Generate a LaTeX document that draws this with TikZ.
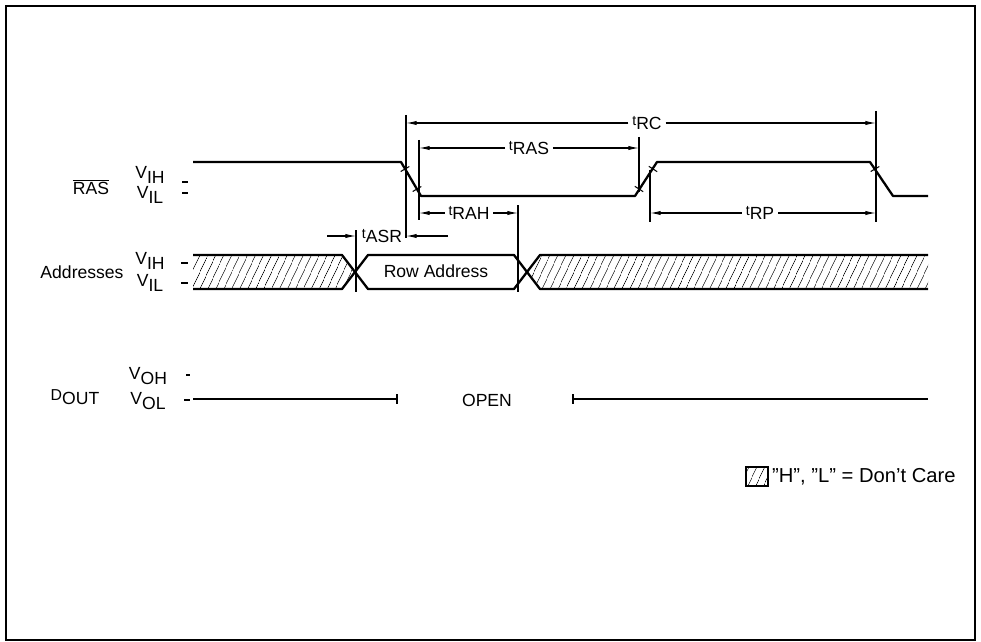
\documentclass[tikz,border=0pt]{standalone}
\usepackage{fontspec}
\setmainfont{Liberation Sans}
\usetikzlibrary{arrows.meta,patterns.meta}

% level label (V raised, suffix dropped) and timing label (small raised t)
\newcommand{\vlev}[2]{#1\raisebox{-2.5pt}{#2}}
\newcommand{\tpar}[1]{\raisebox{2pt}{\footnotesize t}#1}

\tikzset{
  sig/.style={line width=1.3pt, line join=round},
  dimln/.style={line width=0.6pt},
  dimarr/.style={dimln, -{Latex[length=6pt,width=2.4pt]}},
  lbl/.style={font=\fontsize{10}{12}\selectfont, inner sep=1pt},
  dimlbl/.style={lbl, inner sep=2pt},
  hatch/.style={pattern={Lines[angle=65,distance=4pt,line width=0.5pt]}},
  emark/.style={line width=0.6pt},
}

\begin{document}
\begin{tikzpicture}[x=0.02cm,y=-0.02cm]
	\useasboundingbox (0,0) rectangle (981,642);
	% Frame
	\draw[line width=1.2pt] (6,6) rectangle (975,640);

	%% Signal names and levels
	\node[lbl] (ras) at (91,187) {$\overline{\hbox{RAS}}$};
	\node[lbl] (rasvih) at (150,175) {\vlev{V}{IH}};
	\node[lbl] (rasvil) at (150,195) {\vlev{V}{IL}};
	\draw[dimln] (182,182) -- (188,182);
	\draw[dimln] (182,193) -- (188,193);

	\node[lbl] (addr) at (82,272) {Addresses};
	\node[lbl] (addrvih) at (150,261) {\vlev{V}{IH}};
	\node[lbl] (addrvil) at (150,283) {\vlev{V}{IL}};
	\draw[dimln] (181,263) -- (188,263);
	\draw[dimln] (181,283) -- (188,283);

	\node[lbl] (dout) at (75,397) {\raisebox{2pt}{\small D}OUT};
	\node[lbl] (doutvoh) at (148,376) {\vlev{V}{OH}};
	\node[lbl] (doutvol) at (148,401) {\vlev{V}{OL}};
	\draw[dimln] (186,375) -- (190,375);
	\draw[dimln] (184,400) -- (190,400);

	%% RAS waveform
	\draw[sig] (193,162) -- (401,162) -- (421,196) -- (635,196) -- (657,162)
		-- (870,162) -- (893,196) -- (928,196);
	\draw[emark] (405,169) ++(-4.3,2.5) -- ++(8.6,-5);
	\draw[emark] (417,189) ++(-4.3,2.5) -- ++(8.6,-5);
	\draw[emark] (639,189) ++(-4.2,-2.7) -- ++(8.4,5.4);
	\draw[emark] (653,169) ++(-4.2,-2.7) -- ++(8.4,5.4);
	\draw[emark] (875,169) ++(-4.3,2.5) -- ++(8.6,-5);

	%% Address waveform
	\path[hatch] (193,255) -- (342,255) -- (355,272) -- (342,289) -- (193,289) -- cycle;
	\path[hatch] (540,255) -- (928,255) -- (928,289) -- (540,289) -- (527,272) -- cycle;
	\draw[sig] (193,255) -- (342,255) -- (368,289) -- (514,289) -- (540,255) -- (928,255);
	\draw[sig] (193,289) -- (342,289) -- (368,255) -- (514,255) -- (540,289) -- (928,289);
	\node[lbl] (rowaddr) at (436,271) {Row Address};

	%% DOUT
	\draw[sig] (193,399) -- (397,399);
	\draw[dimln] (397,394) -- (397,404);
	\node[lbl] (open) at (487,400) {OPEN};
	\draw[sig] (573,399) -- (928,399);
	\draw[dimln] (573,394) -- (573,404);

	%% Extension lines
	\draw[dimln] (406,115) -- (406,238);
	\draw[dimln] (419,140) -- (419,220);
	\draw[dimln] (639,137) -- (639,192);
	\draw[dimln] (650,170) -- (650,222);
	\draw[dimln] (876,111) -- (876,222);
	\draw[dimln] (356,230) -- (356,292);
	\draw[dimln] (518,205) -- (518,292);

	%% Timing dimensions
	\node[dimlbl] (trc) at (647,123) {\tpar{RC}};
	\coordinate (rcL) at (406,123);
	\coordinate (rcR) at (876,123);
	\draw[dimarr] (trc) -- (rcL);
	\draw[dimarr] (trc) -- (rcR);

	\node[dimlbl] (tras) at (529,148) {\tpar{RAS}};
	\coordinate (rasL) at (419,148);
	\coordinate (rasR) at (639,148);
	\draw[dimarr] (tras) -- (rasL);
	\draw[dimarr] (tras) -- (rasR);

	\node[dimlbl] (trah) at (469,213) {\tpar{RAH}};
	\coordinate (rahL) at (419,213);
	\coordinate (rahR) at (518,213);
	\draw[dimarr] (trah) -- (rahL);
	\draw[dimarr] (trah) -- (rahR);

	\node[dimlbl] (trp) at (760,213) {\tpar{RP}};
	\coordinate (rpL) at (650,213);
	\coordinate (rpR) at (876,213);
	\draw[dimarr] (trp) -- (rpL);
	\draw[dimarr] (trp) -- (rpR);

	\node[dimlbl] (tasr) at (382,236) {\tpar{ASR}};
	\coordinate (asrA) at (327,236);
	\coordinate (asrB) at (356,236);
	\coordinate (asrC) at (448,236);
	\coordinate (asrD) at (406,236);
	\draw[dimarr] (asrA) -- (asrB);
	\draw[dimarr] (asrC) -- (asrD);

	%% Legend
	\path[hatch, draw, line width=0.6pt] (746,467) rectangle (768,486);
	\node[lbl, font=\fontsize{11.5}{13}\selectfont, anchor=west] (care) at (770,477) {''H'', ''L'' = Don't Care};
\end{tikzpicture}
\end{document}
